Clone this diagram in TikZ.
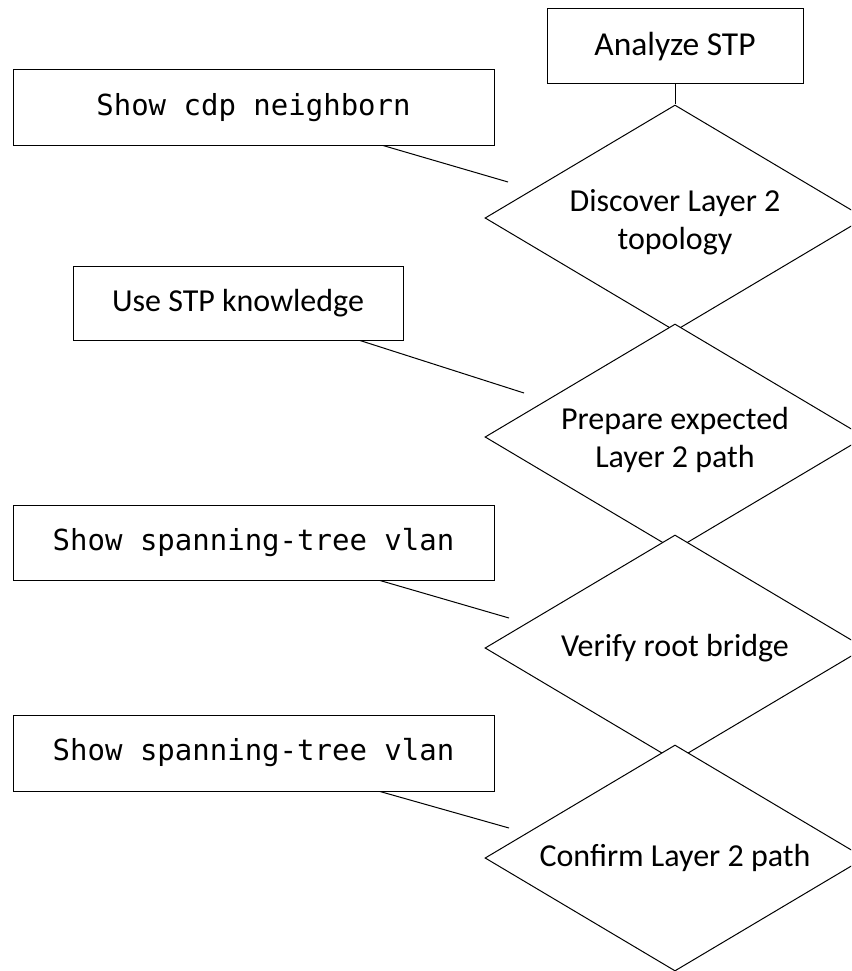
\documentclass[tikz,border=0pt]{standalone}
\usepackage{fontspec}
\setmainfont{Carlito}
\newfontfamily\codefont{DejaVu Sans Mono}
\usetikzlibrary{shapes.geometric,calc}

\tikzset{
  base/.style={draw=black, line width=1pt, fill=white, inner sep=0pt},
  stepbox/.style={base, rectangle, font=\fontsize{32}{39}\selectfont, align=center},
  cmdbox/.style={base, rectangle, font=\codefont\fontsize{29}{36}\selectfont},
  check/.style={base, diamond, minimum width=380pt, minimum height=226pt},
  checktext/.style={font=\fontsize{32}{38}\selectfont, align=center, inner sep=0pt},
  link/.style={draw=black, line width=1pt}
}

\begin{document}
\begin{tikzpicture}[x=1pt, y=-1pt]
  \useasboundingbox (0,0) rectangle (851,971);
  \clip (0,0) rectangle (851,971);

  % main flow: each decision is a diamond with its caption on top
  \node[stepbox, minimum width=256pt, minimum height=75pt, font=\fontsize{33.5}{40}\selectfont] (ana) at (675,46.5) {Analyze STP};
  \node[check] (d1) at (675,218) {};
  \node[checktext, yshift=-4pt] (d1t) at (d1) {Discover Layer 2\\topology};
  \draw[link] (ana.south) -- (d1.north);
  \node[check] (d2) at (675,437) {};
  \node[checktext, yshift=-3pt] (d2t) at (d2) {Prepare expected\\Layer 2 path};
  \node[check] (d3) at (675,648) {};
  \node[checktext] (d3t) at (d3) {Verify root bridge};
  \node[check] (d4) at (675,858) {};
  \node[checktext] (d4t) at (d4) {Confirm Layer 2 path};

  % supporting actions on the left
  \node[cmdbox, minimum width=481pt, minimum height=75pt] (b1) at (253.5,107.5) {Show cdp neighborn};
  \node[stepbox, minimum width=330pt, minimum height=74pt] (b2) at (238,303) {Use STP knowledge};
  \node[cmdbox, minimum width=481pt, minimum height=75pt] (b3) at (253.5,542.5) {Show spanning-tree vlan};
  \node[cmdbox, minimum width=481pt, minimum height=76pt] (b4) at (253.5,753) {Show spanning-tree vlan};

  \coordinate (t1) at (508,182);
  \coordinate (t2) at (524,393);
  \coordinate (t3) at (509,618);
  \coordinate (t4) at (509,828);

  \draw[link] ([xshift=129.5pt]b1.south) -- (t1);
  \draw[link] ([xshift=122pt]b2.south) -- (t2);
  \draw[link] ([xshift=126.5pt]b3.south) -- (t3);
  \draw[link] ([xshift=126.5pt]b4.south) -- (t4);
\end{tikzpicture}
\end{document}
